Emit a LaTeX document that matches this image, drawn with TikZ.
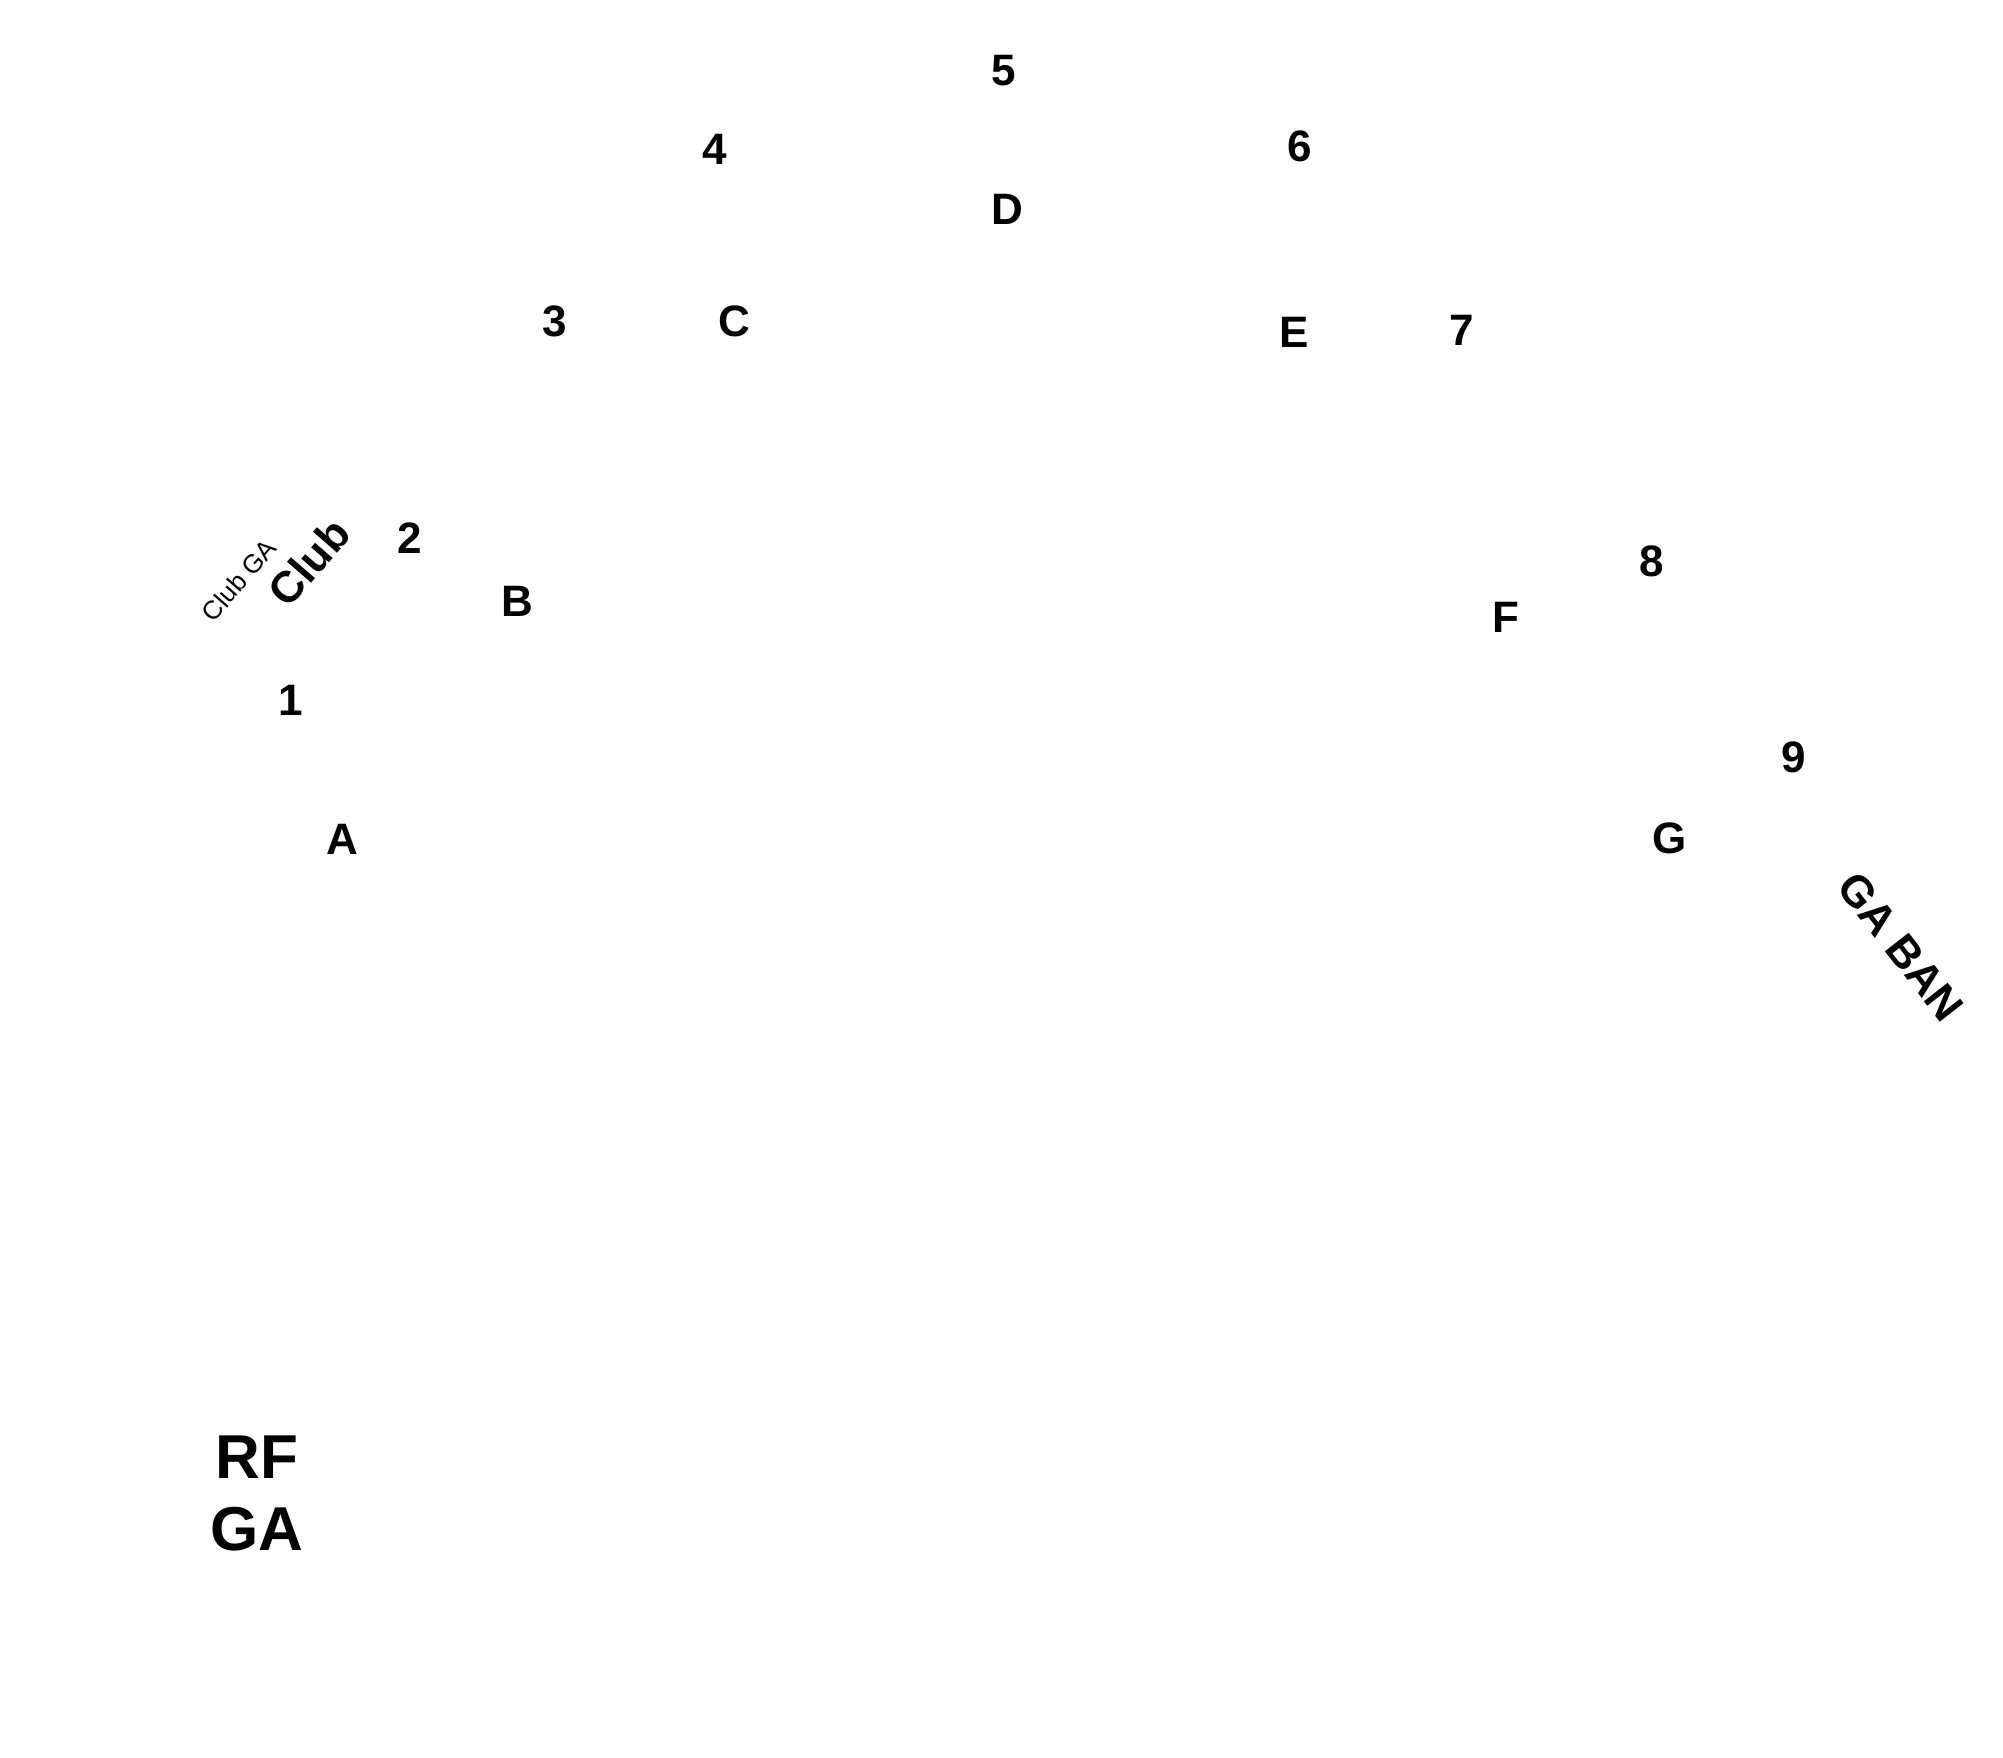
\documentclass[tikz,border=0pt]{standalone}
\usepackage{fontspec}
\setmainfont{Liberation Sans}
\usepackage{tikz}
\usetikzlibrary{positioning}

\begin{document}
\begin{tikzpicture}[
    x=1pt, y=-1pt,
    every node/.style={inner sep=0pt, anchor=center},
    seat/.style={font=\fontsize{44}{48}\selectfont\bfseries},
    zone/.style={font=\fontsize{44}{48}\selectfont\bfseries},
    sect/.style={font=\fontsize{62}{72}\selectfont\bfseries, align=center}
    ]
\useasboundingbox[fill=white] (0,0) rectangle (2003,1757);
%Row numbers
\node[seat] (n1) at (291,700) {1};
\node[seat] (n2) at (410,538) {2};
\node[seat] (n3) at (555,321) {3};
\node[seat] (n4) at (715,149) {4};
\node[seat] (n5) at (1004,71) {5};
\node[seat] (n6) at (1300,146) {6};
\node[seat] (n7) at (1462,330) {7};
\node[seat] (n8) at (1652,561) {8};
\node[seat] (n9) at (1794,757) {9};
%Blocks
\node[seat] (bA) at (342,839) {A};
\node[seat] (bB) at (517,601) {B};
\node[seat] (bC) at (734,321) {C};
\node[seat] (bD) at (1007,209) {D};
\node[seat] (bE) at (1294,332) {E};
\node[seat] (bF) at (1506,617) {F};
\node[seat] (bG) at (1670,838) {G};
%Zones
\node[zone, rotate=49] (club) at (309,562) {Club};
\node[font=\fontsize{26}{28}\selectfont, rotate=49] (clubga) at (239,580) {Club GA};
\node[zone, rotate=-52] (gaban) at (1901,947) {GA BAN};
\node[sect] (rfga) at (257,1493) {RF\\GA};
\end{tikzpicture}
\end{document}
